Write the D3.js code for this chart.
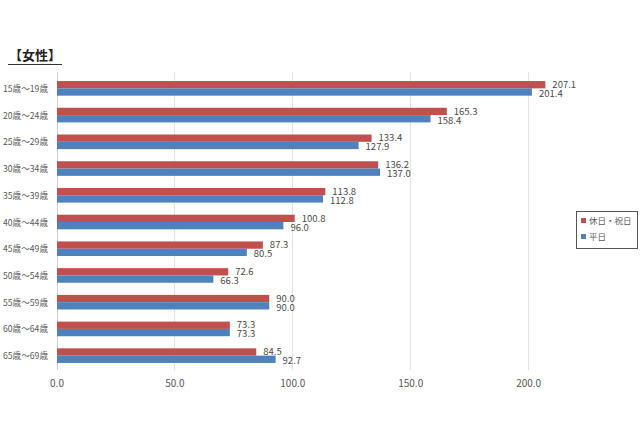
<!DOCTYPE html>
<html><head><meta charset="utf-8">
<script src="https://cdn.jsdelivr.net/npm/d3@7"></script>
<style>
body{margin:0;background:#fff;}
svg{display:block;font-family:"Noto Sans CJK JP","Noto Sans",sans-serif;}
</style></head>
<body><svg id="c" width="640" height="426"></svg>
<script>
const categories = ["15歳～19歳","20歳～24歳","25歳～29歳","30歳～34歳","35歳～39歳","40歳～44歳","45歳～49歳","50歳～54歳","55歳～59歳","60歳～64歳","65歳～69歳"];
const holidayValues = [207.1,165.3,133.4,136.2,113.8,100.8,87.3,72.6,90.0,73.3,84.5];
const weekdayValues = [201.4,158.4,127.9,137.0,112.8,96.0,80.5,66.3,90.0,73.3,92.7];
const seriesNames = ["休日・祝日","平日"];
const xTicks = [0,50,100,150,200];
const colors = ["#C0504D","#4F81BD"];

const svg = d3.select("#c");
const x = d3.scaleLinear().domain([0,215]).range([57,564]);
const y = d3.scaleBand().domain(categories).range([75,369]).paddingInner(0).paddingOuter(0);
const sub = d3.scaleBand().domain([0,1]).range([0,14.6]);

// gridlines
svg.append("g").selectAll("line").data(xTicks).join("line")
  .attr("x1",d=>x(d)).attr("x2",d=>x(d)).attr("y1",72).attr("y2",370)
  .attr("stroke",d=>d===0?"#d0d0d0":"#e2e2e2").attr("stroke-width",1)
  .attr("shape-rendering","crispEdges");

// x axis labels
svg.append("g").selectAll("text").data(xTicks).join("text")
  .attr("x",d=>x(d)).attr("y",387).attr("text-anchor","middle")
  .attr("font-size",10).attr("fill","#595959").text(d=>d.toFixed(1));

// category labels
svg.append("g").selectAll("text").data(categories).join("text")
  .attr("x",48).attr("y",d=>y(d)+y.bandwidth()/2+3.5).attr("text-anchor","end")
  .attr("font-size",9).attr("fill","#595959")
  .attr("textLength",45).attr("lengthAdjust","spacingAndGlyphs").text(d=>d);

const series = [holidayValues, weekdayValues];
series.forEach((vals,si)=>{
  const g = svg.append("g");
  g.selectAll("rect").data(vals).join("rect")
    .attr("x",x(0)).attr("y",(d,i)=>y(categories[i])+y.bandwidth()/2-7.3+sub(si))
    .attr("width",d=>x(d)-x(0)).attr("height",sub.bandwidth())
    .attr("fill",colors[si]);
  g.selectAll("text").data(vals).join("text")
    .attr("x",d=>x(d)+7).attr("y",(d,i)=>y(categories[i])+y.bandwidth()/2+(si===0?-0.5:8.5))
    .attr("font-size",9.5).attr("fill","#4a4a4a").text(d=>d.toFixed(1));
});

// title
svg.append("text").attr("x",9).attr("y",60).attr("font-size",13).attr("font-weight","bold")
  .attr("fill","#222").text("【女性】");
svg.append("line").attr("x1",8).attr("x2",62).attr("y1",64.5).attr("y2",64.5)
  .attr("stroke","#333").attr("stroke-width",1.2);

// legend
const lg = svg.append("g");
lg.append("rect").attr("x",576.5).attr("y",211.5).attr("width",61).attr("height",37)
  .attr("fill","#fff").attr("stroke","#555").attr("stroke-width",1);
seriesNames.forEach((n,i)=>{
  lg.append("rect").attr("x",581).attr("y",218+i*16).attr("width",5).attr("height",5).attr("fill",colors[i]);
  lg.append("text").attr("x",589).attr("y",224+i*16).attr("font-size",8.5).attr("fill","#595959").text(n);
});
</script></body></html>
